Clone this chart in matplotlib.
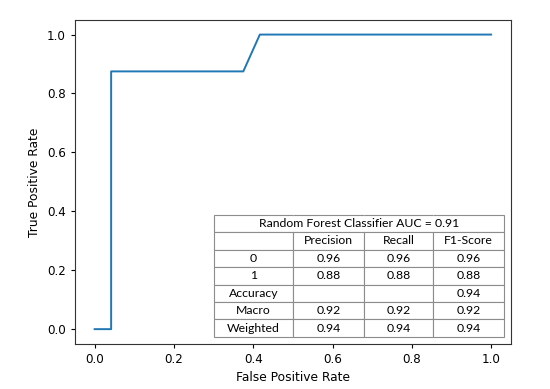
import numpy as np
import matplotlib
matplotlib.use("Agg")
import matplotlib.pyplot as plt

# ROC curve points
fpr = [0.0, 1 / 24, 1 / 24, 9 / 24, 10 / 24, 1.0]
tpr = [0.0, 0.0, 0.875, 0.875, 1.0, 1.0]

# classification report
table_title = "Random Forest Classifier AUC = 0.91"
col_labels = ["", "Precision", "Recall", "F1-Score"]
row_labels = ["0", "1", "Accuracy", "Macro", "Weighted"]
precision = ["0.96", "0.88", "", "0.92", "0.94"]
recall = ["0.96", "0.88", "", "0.92", "0.94"]
f1_score = ["0.96", "0.88", "0.94", "0.92", "0.94"]

fig = plt.figure(figsize=(5.5, 3.89), dpi=100)
ax = fig.add_axes([0.136, 0.116, 0.793, 0.833])

ax.plot(fpr, tpr, color="#1f77b4", linewidth=1.4)
ax.set_xlabel("False Positive Rate", fontsize=8.8)
ax.set_ylabel("True Positive Rate", fontsize=8.8)
ax.tick_params(labelsize=8.6, length=3)
for s in ax.spines.values():
    s.set_color("#333333")

rows = [["", "", "", ""], col_labels]
for i in range(len(row_labels)):
    rows.append([row_labels[i], precision[i], recall[i], f1_score[i]])

x0, y0, w, h = 0.319, 0.0216, 0.665, 0.377
tbl = ax.table(cellText=rows, cellLoc="center", bbox=[x0, y0, w, h],
               colWidths=[79, 71, 69, 71])
tbl.auto_set_font_size(False)
tbl.set_fontsize(8.8)
for (r, c), cell in tbl.get_celld().items():
    cell.set_edgecolor("#8c8c8c")
    cell.set_linewidth(0.8)
    cell.get_text().set_fontfamily("Lato")
    if r == 0:
        cell.visible_edges = {0: "BTL", 3: "BTR"}.get(c, "BT")

ax.text(x0 + w / 2, y0 + h * 6.5 / 7, table_title, transform=ax.transAxes,
        ha="center", va="center", fontsize=8.8, family="Lato", zorder=5)

fig.savefig("out.png", dpi=100)
